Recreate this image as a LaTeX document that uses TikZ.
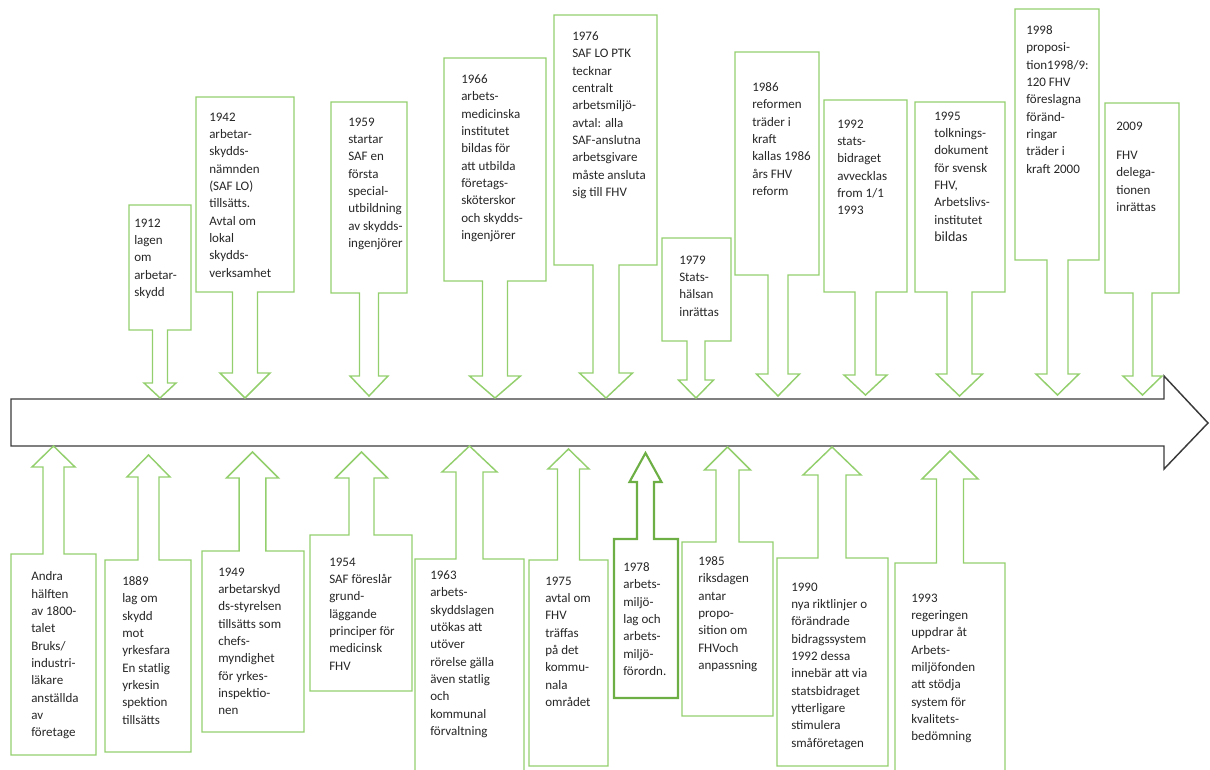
\documentclass[tikz,border=0pt]{standalone}
\usepackage{fontspec}
\setmainfont{Carlito}
\usepackage{tikz}
\definecolor{EvtGreen}{HTML}{93CF6D}
\definecolor{EvtGreenDark}{HTML}{6DAE45}
\definecolor{LineGrey}{HTML}{3A3A3A}
\definecolor{TxtGrey}{HTML}{262626}

% box with an arrow: #1 left, #2 right, #3 far edge, #4 edge at the shaft,
% #5 shaft centre, #6 half shaft, #7 half head, #8 head base, #9 tip
\newcommand{\evtarrow}[9]{%
    \draw[callout] (#1,#3) -- (#2,#3) -- (#2,#4) -- ({#5+#6},#4) -- ({#5+#6},#8)
    -- ({#5+#7},#8) -- (#5,#9) -- ({#5-#7},#8) -- ({#5-#6},#8) -- ({#5-#6},#4)
    -- (#1,#4) -- cycle;%
}

\begin{document}
\begin{tikzpicture}[
            x=0.75pt, y=-0.75pt,
            callout/.style={
                    draw=EvtGreen,
                    line width=1.1pt,
                    line join=miter
                },
            timeline/.style={
                    draw=LineGrey,
                    line width=1.1pt
                },
            note/.style={
                    anchor=north west,
                    inner sep=0pt,
                    align=left,
                    text=TxtGrey,
                    font=\fontsize{9.75}{13}\selectfont
                },
        ]
        \useasboundingbox (0,0) rectangle (1210,770);

        % Time axis
        \draw[timeline] (11,399) -- (1164,399) -- (1164,376) -- (1208,423)
        -- (1164,469) -- (1164,446) -- (11,446) -- cycle;

        % Events above the axis
        \evtarrow{129}{191}{205}{330}{160}{7.5}{16}{383}{398}
        \evtarrow{196}{294}{97}{292}{245}{12.5}{25}{373}{398}
        \evtarrow{331}{407}{102}{293}{369}{9.5}{19}{376}{396}
        \evtarrow{444}{546}{58}{281}{495}{12.5}{25.5}{376}{398}
        \evtarrow{554}{657}{15}{265}{606}{13}{26.5}{373}{398}
        \evtarrow{662}{731}{238}{341}{696}{9}{17.5}{380}{398}
        \evtarrow{735}{819}{52}{275}{778}{10}{21.5}{374}{396}
        \evtarrow{824}{907}{100}{292}{865.5}{10.5}{21.5}{375}{395}
        \evtarrow{915}{1005}{102}{292}{959.5}{12.5}{23}{374}{396}
        \evtarrow{1015}{1099}{9}{260}{1057.5}{10.5}{21.5}{374}{395}
        \evtarrow{1105}{1179}{103}{293}{1142.5}{9.5}{19.5}{376}{395}

        \node[note] (t1912) at (134,218.5) {1912\\lagen\\om\\arbetar-\\skydd};
        \node[note] (t1942) at (209,112.5) {1942\\arbetar-\\skydds-\\nämnden\\(SAF LO)\\tillsätts.\\Avtal om\\lokal\\skydds-\\verksamhet};
        \node[note] (t1959) at (348,117.5) {1959\\startar\\SAF en\\första\\special-\\utbildning\\av skydds-\\ingenjörer};
        \node[note] (t1966) at (461,74.5) {1966\\arbets-\\medicinska\\institutet\\bildas för\\att utbilda\\företags-\\sköterskor\\och skydds-\\ingenjörer};
        \node[note] (t1976) at (572,31.5) {1976\\SAF LO PTK\\tecknar\\centralt\\arbetsmiljö-\\avtal: alla\\SAF-anslutna\\arbetsgivare\\måste ansluta\\sig till FHV};
        \node[note] (t1979) at (679,255.5) {1979\\Stats-\\hälsan\\inrättas};
        \node[note] (t1986) at (752,82.5) {1986\\reformen\\träder i\\kraft\\kallas 1986\\års FHV\\reform};
        \node[note] (t1992) at (837,119.5) {1992\\stats-\\bidraget\\avvecklas\\from 1/1\\1993};
        \node[note] (t1995) at (934,111.5) {1995\\tolknings-\\dokument\\för svensk\\FHV,\\Arbetslivs-\\institutet\\{\fontsize{10.5}{13}\selectfont bildas}};
        \node[note] (t1998) at (1026,25.5) {1998\\proposi-\\tion1998/9:\\120 FHV\\föreslagna\\föränd-\\ringar\\träder i\\kraft 2000};
        \node[note] (t2009) at (1116,121.5) {2009\\[9pt]FHV\\delega-\\tionen\\inrättas};

        % Events below the axis
        \evtarrow{11}{96}{755}{554}{53.5}{10.5}{21.5}{467}{446}
        \evtarrow{105}{191}{752}{560}{148.5}{10.5}{21.5}{477}{455}
        \evtarrow{202}{304}{732}{551}{252.5}{13.3}{26}{478}{452}
        \evtarrow{310}{412}{691}{535}{361.5}{12.5}{26}{478}{452}
        \evtarrow{415}{524}{772}{559}{469.5}{13.5}{27.5}{472}{446}
        \evtarrow{529}{608}{766}{560}{568.5}{11}{20.5}{469}{449}
        \begin{scope}[callout/.append style={draw=EvtGreenDark, line width=1.6pt}]
            \evtarrow{614}{678}{698}{539}{645.5}{8.5}{16}{482}{453}
        \end{scope}
        \evtarrow{682}{773}{716}{542}{727.5}{11.5}{23}{470}{447}
        \evtarrow{777}{888}{766}{558}{832}{14}{29}{475}{447}
        \evtarrow{895}{1005}{772}{563}{950}{13.5}{28}{479}{451}

        \node[note] (t1800) at (31,571.5) {Andra\\hälften\\av 1800-\\talet\\Bruks/\\industri-\\läkare\\anställda\\av\\företage};
        \node[note] (t1889) at (122,576.5) {1889\\lag om\\skydd\\mot\\yrkesfara\\En statlig\\yrkesin\\spektion\\tillsätts};
        \node[note] (t1949) at (218,567.5) {1949\\arbetarskyd\\ds-styrelsen\\tillsätts som\\chefs-\\myndighet\\för yrkes-\\inspektio-\\nen};
        \node[note] (t1954) at (329,557.5) {1954\\SAF föreslår\\grund-\\läggande\\principer för\\medicinsk\\FHV};
        \node[note] (t1963) at (430,570.5) {1963\\arbets-\\skyddslagen\\utökas att\\utöver\\rörelse gälla\\även statlig\\och\\kommunal\\förvaltning};
        \node[note] (t1975) at (545,576.5) {1975\\avtal om\\FHV\\träffas\\på det\\kommu-\\nala\\området};
        \node[note] (t1978) at (623,562.5) {1978\\arbets-\\miljö-\\lag och\\arbets-\\miljö-\\förordn.};
        \node[note] (t1985) at (698,556.5) {1985\\riksdagen\\antar\\propo-\\sition om\\FHVoch\\anpassning};
        \node[note] (t1990) at (791,582.5) {1990\\nya riktlinjer o\\förändrade\\bidragssystem\\1992 dessa\\innebär att via\\statsbidraget\\ytterligare\\stimulera\\småföretagen};
        \node[note] (t1993) at (911,593.5) {1993\\regeringen\\uppdrar åt\\Arbets-\\miljöfonden\\att stödja\\system för\\kvalitets-\\bedömning};

    \end{tikzpicture}
\end{document}
